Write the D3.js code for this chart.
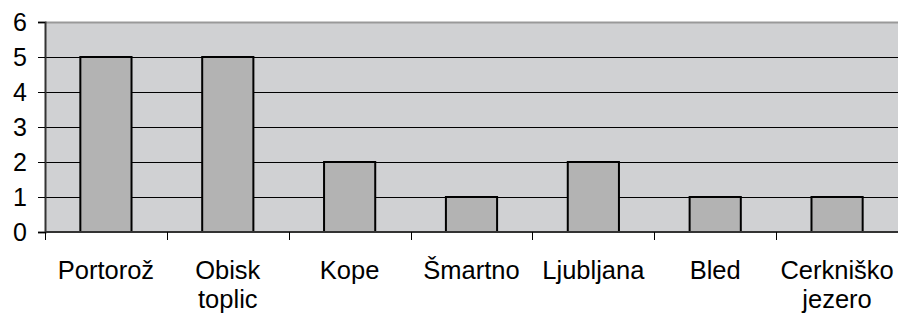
<!DOCTYPE html>
<html>
<head>
<meta charset="utf-8">
<script src="https://cdn.jsdelivr.net/npm/d3@7"></script>
<style>
  body { margin: 0; background: #fff; }
  svg text { font-family: "Liberation Sans", Arial, sans-serif; }
</style>
</head>
<body>
<svg width="898" height="316"></svg>
<script>
const categories = ['Portorož', 'Obisk toplic', 'Kope', 'Šmartno', 'Ljubljana', 'Bled', 'Cerkniško jezero']
const values = [5, 5, 2, 1, 2, 1, 1]
const yTicks = [0, 1, 2, 3, 4, 5, 6]

const svg = d3.select('svg')
const margin = { left: 45, right: 0, top: 22, bottom: 84 }
const width = +svg.attr('width')
const height = +svg.attr('height')

const x = d3.scaleBand()
  .domain(categories)
  .range([margin.left, width - margin.right])
  .paddingInner(0.58)
  .paddingOuter(0.29)

const y = d3.scaleLinear()
  .domain([0, 6])
  .range([height - margin.bottom, margin.top])

// plot background
svg.append('rect')
  .attr('x', margin.left)
  .attr('y', y(6))
  .attr('width', width - margin.right - margin.left)
  .attr('height', y(0) - y(6))
  .attr('fill', '#d0d1d3')

// gridlines
svg.append('g')
  .selectAll('line')
  .data(yTicks.filter(d => d > 0 && d < 6))
  .enter().append('line')
    .attr('x1', margin.left)
    .attr('x2', width - margin.right)
    .attr('y1', d => Math.round(y(d)) + 0.5)
    .attr('y2', d => Math.round(y(d)) + 0.5)
    .attr('stroke', '#000')
    .attr('stroke-width', 1)

// top border
svg.append('line')
  .attr('x1', margin.left)
  .attr('x2', width - margin.right)
  .attr('y1', Math.round(y(6)) + 0.5)
  .attr('y2', Math.round(y(6)) + 0.5)
  .attr('stroke', '#999')
  .attr('stroke-width', 2)

// bars
svg.append('g')
  .selectAll('rect')
  .data(values)
  .enter().append('rect')
    .attr('x', (d, i) => x(categories[i]))
    .attr('y', d => y(d))
    .attr('width', x.bandwidth())
    .attr('height', d => y(0) - y(d))
    .attr('fill', '#b3b3b3')
    .attr('stroke', '#000')
    .attr('stroke-width', 2)

// y axis
const yAxis = svg.append('g')
  .attr('transform', 'translate(' + margin.left + ',0)')
  .call(d3.axisLeft(y).tickValues(yTicks).tickFormat(d3.format('d')).tickSize(7).tickPadding(11))
yAxis.select('.domain').attr('stroke', '#333').attr('stroke-width', 2)
yAxis.selectAll('.tick line').attr('stroke', '#000')
yAxis.selectAll('.tick text')
  .attr('font-size', 25)
  .attr('fill', '#000')

// x axis line
svg.append('line')
  .attr('x1', margin.left)
  .attr('x2', width - margin.right)
  .attr('y1', y(0))
  .attr('y2', y(0))
  .attr('stroke', '#333')
  .attr('stroke-width', 2)

// category ticks at band boundaries
const bounds = d3.range(categories.length + 1).map(i => margin.left + i * (width - margin.right - margin.left) / categories.length)
svg.append('g')
  .selectAll('line')
  .data(bounds)
  .enter().append('line')
    .attr('x1', d => Math.round(d) + 0.5)
    .attr('x2', d => Math.round(d) + 0.5)
    .attr('y1', y(0))
    .attr('y2', y(0) + 8)
    .attr('stroke', '#000')
    .attr('stroke-width', 1)

// category labels
const labels = svg.append('g')
  .selectAll('text')
  .data(categories)
  .enter().append('text')
    .attr('x', d => x(d) + x.bandwidth() / 2)
    .attr('y', 279)
    .attr('text-anchor', 'middle')
    .attr('font-size', 25.5)
    .attr('fill', '#000')

labels.each(function(d) {
  const words = d.split(' ')
  const t = d3.select(this)
  words.forEach((w, i) => {
    t.append('tspan')
      .attr('x', x(d) + x.bandwidth() / 2)
      .attr('dy', i === 0 ? 0 : 29)
      .text(w)
  })
})
</script>
</body>
</html>
